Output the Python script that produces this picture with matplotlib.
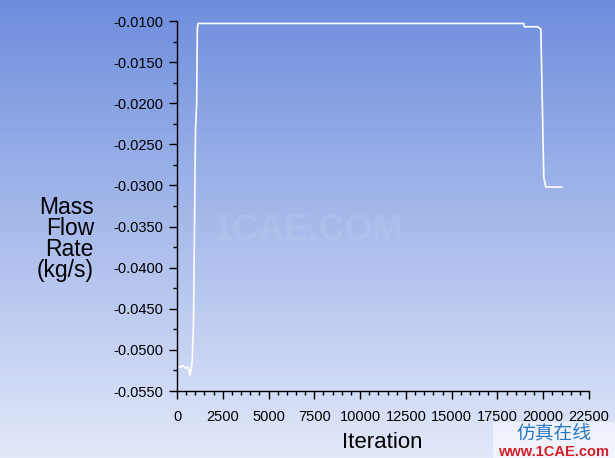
import numpy as np
import matplotlib
matplotlib.use("Agg")
import matplotlib.pyplot as plt
from matplotlib.ticker import MultipleLocator, FormatStrFormatter
from matplotlib.patches import Rectangle

# Data
iterations = [0, 10, 150, 300, 450, 600, 700, 760, 830, 900, 1010, 1075, 1110, 1150,
              3000, 8000, 13000, 18000, 18940, 18960, 19700, 19870, 19950, 20030, 20140, 21015]
mass_flow = [-0.0466, -0.0520, -0.0521, -0.0519, -0.0522, -0.0521, -0.0531, -0.0525, -0.0513,
             -0.0470, -0.0232, -0.0200, -0.0110, -0.0103,
             -0.0103, -0.0103, -0.0103, -0.0103, -0.0103, -0.0107, -0.0107, -0.0110,
             -0.0200, -0.0290, -0.0302, -0.0302]

x_ticks = [0, 2500, 5000, 7500, 10000, 12500, 15000, 17500, 20000, 22500]
y_ticks = [-0.0550, -0.0500, -0.0450, -0.0400, -0.0350, -0.0300, -0.0250, -0.0200, -0.0150, -0.0100]
y_label = "Mass\nFlow\nRate\n(kg/s)"
x_label = "Iteration"

plt.rcParams['font.family'] = ['Liberation Sans', 'Noto Sans CJK SC', 'DejaVu Sans']

fig = plt.figure(figsize=(6.15, 4.58), dpi=100)

# gradient background
bg = fig.add_axes([0, 0, 1, 1], zorder=-10)
top = np.array([110, 142, 221]) / 255.0
bot = np.array([226, 232, 249]) / 255.0
t = np.linspace(0, 1, 256)[:, None]
grad = top[None, :] * (1 - t) + bot[None, :] * t
grad = np.repeat(grad[:, None, :], 2, axis=1)
bg.imshow(grad, aspect='auto', extent=[0, 1, 0, 1], origin='upper')
bg.set_axis_off()

# watermark
bg.text(0.5, 0.497, "1CAE.COM", ha='center', va='center', fontsize=26, fontweight='bold',
        color='white', alpha=0.08, transform=bg.transAxes)

ax = fig.add_axes([177/615, 1 - 391/458, (589-177)/615, (391-21)/458])
ax.patch.set_alpha(0)
ax.plot(iterations, mass_flow, color='white', lw=1.2)

ax.set_xlim(0, 22500)
ax.set_ylim(-0.0550, -0.0100)
ax.set_xticks(x_ticks)
ax.set_yticks(y_ticks)
ax.xaxis.set_minor_locator(MultipleLocator(500))
ax.yaxis.set_minor_locator(MultipleLocator(0.0025))
ax.yaxis.set_major_formatter(FormatStrFormatter('%.4f'))
for s in ['top', 'right']:
    ax.spines[s].set_visible(False)
for s in ['left', 'bottom']:
    ax.spines[s].set_color('black')
    ax.spines[s].set_linewidth(1.0)
ax.tick_params(which='major', direction='out', length=6, width=1, colors='black',
               labelsize=10.5, pad=4)
ax.tick_params(which='minor', direction='out', length=3, width=1, colors='black')
ax.tick_params(axis='x', pad=8)

fig.text(94/615, 1 - 239/458, y_label, ha='right', va='center', fontsize=16.5,
         linespacing=0.9, color='black')
fig.text(382/615, 1 - 443/458, x_label, ha='center', va='center', fontsize=16, color='black')

# bottom-right logo
fig.patches.append(Rectangle((493/615, 0), 122/615, 36/458, transform=fig.transFigure,
                             facecolor='white', alpha=0.55, edgecolor='none', zorder=5))
fig.text(554/615, 1 - 434/458, "仿真在线", ha='center', va='center', fontsize=13.5,
         color='#2a78c2', zorder=6)
fig.text(554/615, 1 - 451.5/458, "www.1CAE.com", ha='center', va='center', fontsize=10.5,
         fontweight='bold', color='#d0202a', zorder=6)

fig.savefig("out.png", dpi=100)
